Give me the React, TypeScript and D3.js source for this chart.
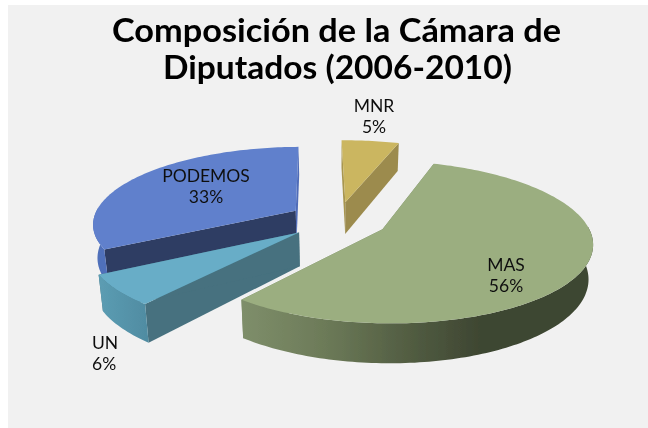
import React from "react";
import * as d3 from "d3";

const categories = ["MAS", "UN", "PODEMOS", "MNR"];
const shares = [55.6, 6.2, 32.8, 5.4];
const titleLines = ["Composición de la Cámara de", "Diputados (2006-2010)"];

const firstAngleDeg = 18.5;
const W = 648, H = 428;
const cx = 338, cy = 220, Rx = 203, Ry = 76.5, persp = 0.155, depth = 33, explode = 0.245, taper = 0.018;

const paint = [
  { name: "PODEMOS", top: "#6080cc", wall: "#5070ba", cutStart: "#4f6cb8", cutEnd: "#2e3c63", order: 0 },
  { name: "MNR", top: "#cbb661", wall: "#b09c52", cutStart: "#9c8b4d", cutEnd: "#a8964f", order: 1 },
  { name: "UN", top: "#67adc7", wall: "url(#unWall)", cutStart: "#46717f", cutEnd: "#46717f", order: 2 },
  { name: "MAS", top: "#9bae80", wall: "url(#masWall)", cutStart: "#7c8c68", cutEnd: "#7c8c68", order: 3 },
];

const labelAnchors: Record<string, { x: number; y: number; anchor: string }> = {
  MAS: { x: 506, y: 270.5, anchor: "middle" },
  UN: { x: 92, y: 349, anchor: "start" },
  PODEMOS: { x: 206, y: 182, anchor: "middle" },
  MNR: { x: 374, y: 112, anchor: "middle" },
};

type P = [number, number];
const toX = d3.scaleLinear().domain([0, 1]).range([0, Rx]);
const toY = d3.scaleLinear().domain([0, 1]).range([0, Ry]);
const pct = d3.format(".0f");

function project(X: number, Y: number, Z: number): P {
  const s = 1 / (1 - persp * Y);
  return [cx + toX(X) * s * (1 - taper * Z), cy + toY(Y) * s + depth * Z * s];
}

const pathOf = (pts: P[]) => d3.line<P>()(pts) + "Z";

export default function App() {
  const start = (firstAngleDeg * Math.PI) / 180;
  const arcs = d3
    .pie<number>()
    .sort(null)
    .startAngle(start)
    .endAngle(start + 2 * Math.PI)(shares);

  const slices = categories.map((name, i) => {
    const a = arcs[i];
    const mid = (a.startAngle + a.endAngle) / 2;
    const ox = Math.sin(mid) * explode;
    const oy = -Math.cos(mid) * explode;
    const n = Math.max(6, Math.round((a.endAngle - a.startAngle) / 0.02));
    const angles = d3.range(n + 1).map((k) => a.startAngle + ((a.endAngle - a.startAngle) * k) / n);
    const frontAngles = angles.filter((t) => Math.cos(t) < 0.05);
    const at = (list: number[], z: number) =>
      list.map((t) => project(ox + Math.sin(t), oy - Math.cos(t), z));
    const apex = (z: number) => project(ox, oy, z);
    const style = paint.find((p) => p.name === name)!;
    return { name, value: shares[i], angles, frontAngles, at, apex, style };
  });
  slices.sort((p, q) => p.style.order - q.style.order);

  return (
    <svg
      width={W}
      height={H}
      viewBox={`0 0 ${W} ${H}`}
      style={{ position: "absolute", left: 0, top: 0, display: "block" }}
    >
      <defs>
        <linearGradient id="masWall" gradientUnits="userSpaceOnUse" x1="243" x2="480" y1="0" y2="0">
          <stop offset="0" stopColor="#7e8e6a" />
          <stop offset="0.35" stopColor="#6c7a58" />
          <stop offset="0.7" stopColor="#525d42" />
          <stop offset="1" stopColor="#3e4632" />
        </linearGradient>
        <linearGradient id="unWall" gradientUnits="userSpaceOnUse" x1="98" x2="150" y1="0" y2="0">
          <stop offset="0" stopColor="#5c9db3" />
          <stop offset="1" stopColor="#4f8ba1" />
        </linearGradient>
        <filter id="soft" x="-5%" y="-5%" width="110%" height="110%">
          <feGaussianBlur stdDeviation="0.7" />
        </filter>
      </defs>
      <rect width={W} height={H} fill="#ffffff" />
      <rect x={8} y={5} width={W - 8} height={H - 5} fill="#f1f1f1" />
      <g filter="url(#soft)">
        {slices.map((s) => {
          const top = s.at(s.angles, 0);
          const bot = s.at(s.angles, 1);
          const last = top.length - 1;
          const wallTop = s.at(s.frontAngles, 0);
          const wallBot = s.at(s.frontAngles, 1);
          return (
            <g key={s.name}>
              <path d={pathOf([s.apex(0), top[0], bot[0], s.apex(1)])} fill={s.style.cutEnd} />
              <path d={pathOf([s.apex(0), top[last], bot[last], s.apex(1)])} fill={s.style.cutStart} />
              {wallTop.length > 1 && (
                <path d={pathOf([...wallTop, ...[...wallBot].reverse()])} fill={s.style.wall} />
              )}
              <path d={pathOf([s.apex(0), ...top])} fill={s.style.top} />
            </g>
          );
        })}
        <g fontFamily="Lato, 'Open Sans', sans-serif" fill="#111111">
          <g fontSize={33} fontWeight={700} textAnchor="middle" fill="#000000">
            <text x={336.5} y={42} textLength={449} lengthAdjust="spacingAndGlyphs">{titleLines[0]}</text>
            <text x={337.5} y={79} textLength={349} lengthAdjust="spacingAndGlyphs">{titleLines[1]}</text>
          </g>
          {slices.map((s) => {
            const l = labelAnchors[s.name];
            return (
              <g key={s.name} fontSize={17.5} textAnchor={l.anchor}>
                <text x={l.x} y={l.y}>{s.name}</text>
                <text x={l.x} y={l.y + 21}>{`${pct(s.value)}%`}</text>
              </g>
            );
          })}
        </g>
      </g>
    </svg>
  );
}
